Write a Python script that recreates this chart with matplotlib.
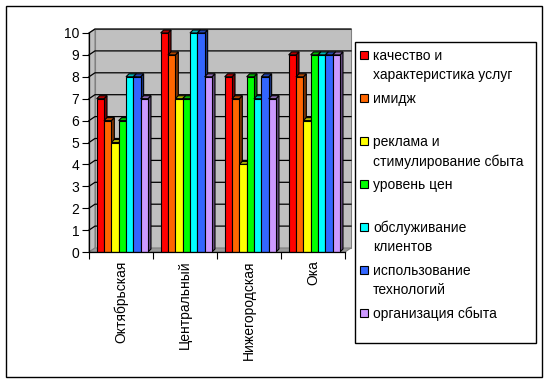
import numpy as np
import matplotlib
matplotlib.use("Agg")
import matplotlib.pyplot as plt
from matplotlib.patches import Rectangle, Polygon
from matplotlib.colors import to_rgb

plt.rcParams['font.family'] = ['Liberation Sans', 'DejaVu Sans']
plt.rcParams['font.size'] = 10

districts = ["Октябрьская", "Центральный", "Нижегородская", "Ока"]
factors = ["качество и\nхарактеристика услуг", "имидж",
           "реклама и\nстимулирование сбыта", "уровень цен",
           "обслуживание\nклиентов", "использование\nтехнологий",
           "организация сбыта"]
colors = ["#ff0000", "#ff6600", "#ffff00", "#00ff00",
          "#00ffff", "#3366ff", "#cc99ff"]

kachestvo = [7, 10, 8, 9]
imidzh = [6, 9, 7, 8]
reklama = [5, 7, 4, 6]
ceny = [6, 7, 8, 9]
obsluzh = [8, 10, 7, 9]
tehnol = [8, 10, 8, 9]
organiz = [7, 8, 7, 9]
series = [kachestvo, imidzh, reklama, ceny, obsluzh, tehnol, organiz]

W, H = 550, 387
fig = plt.figure(figsize=(5.5, 3.87), dpi=100)


def fx(x):
    return x / W


def fy(y):
    return 1 - y / H


def shade(c, k):
    r, g, b = to_rgb(c)
    return (r * k, g * k, b * k)


# front plane of the 3d box
ax = fig.add_axes([fx(89), fy(252), fx(345) - fx(89), fy(33) - fy(252)])
ax.set_xlim(0, 4)
ax.set_ylim(0, 10)
ax.patch.set_visible(False)

# wall depth (6px, 4px) and bar depth (3px, 3px) in data units
wx, wy = 6 / 64, 4 / 21.9
bx, by = 3 / 64, 3 / 21.9

ax.add_patch(Rectangle((wx, wy), 4, 10, fc='#c0c0c0', ec='#808080',
                       lw=0.8, clip_on=False, zorder=0))
ax.add_patch(Polygon([(0, 0), (wx, wy), (wx, 10 + wy), (0, 10)],
                     fc='#c0c0c0', ec='#808080', lw=0.8, clip_on=False, zorder=0))
ax.add_patch(Polygon([(0, 0), (4, 0), (4 + wx, wy), (wx, wy)],
                     fc='#9a9a9a', ec='#808080', lw=0.8, clip_on=False, zorder=1))
for y in range(1, 11):
    ax.plot([0, wx, 4 + wx], [y, y + wy, y + wy], color='black', lw=0.9,
            clip_on=False, zorder=1)

bw = 0.1145
start = 0.12
for i, (vals, c) in enumerate(zip(series, colors)):
    xs = np.arange(len(districts)) + start + i * bw
    bars = ax.bar(xs, vals, width=bw, align='edge', color=c,
                  edgecolor='black', lw=0.8, zorder=4 + 2 * i)
    for b in bars:
        x0, w, v = b.get_x(), b.get_width(), b.get_height()
        ax.add_patch(Polygon([(x0 + w, 0), (x0 + w + bx, by), (x0 + w + bx, v + by), (x0 + w, v)],
                             fc=shade(c, 0.5), ec='black', lw=0.8, zorder=3 + 2 * i, clip_on=False))
        ax.add_patch(Polygon([(x0, v), (x0 + bx, v + by), (x0 + w + bx, v + by), (x0 + w, v)],
                             fc=shade(c, 0.7), ec='black', lw=0.8, zorder=3 + 2 * i, clip_on=False))

for s in ['top', 'right']:
    ax.spines[s].set_visible(False)
for s in ['left', 'bottom']:
    ax.spines[s].set_linewidth(0.9)
    ax.spines[s].set_zorder(30)

ax.set_yticks(range(11))
ax.tick_params(axis='y', length=5, width=0.8, pad=2, labelsize=10)
ax.set_xticks(range(5))
ax.set_xticklabels([])
ax.tick_params(axis='x', which='major', length=5, width=0.8)
ax.set_xticks(np.arange(len(districts)) + 0.5, minor=True)
ax.set_xticklabels(districts, minor=True, rotation=90, va='top', fontsize=10)
ax.tick_params(axis='x', which='minor', length=0, pad=6)

# legend box
fig.patches.append(Rectangle((fx(355), fy(343)), fx(536) - fx(355), fy(42) - fy(343),
                             transform=fig.transFigure, fill=False, ec='black', lw=1))
for k, (lab, c) in enumerate(zip(factors, colors)):
    yc = 55 + 43 * k
    fig.patches.append(Rectangle((fx(360), fy(yc + 4)), fx(8), 8 / H,
                                 transform=fig.transFigure, fc=c, ec='black', lw=0.8))
    fig.text(fx(373), fy(yc - 6), lab, va='top', ha='left', fontsize=10, linespacing=1.45)

# outer border
fig.patches.append(Rectangle((fx(6), fy(377)), fx(542) - fx(6), fy(6) - fy(377),
                             transform=fig.transFigure, fill=False, ec='black', lw=1))

fig.savefig("out.png", dpi=100)
